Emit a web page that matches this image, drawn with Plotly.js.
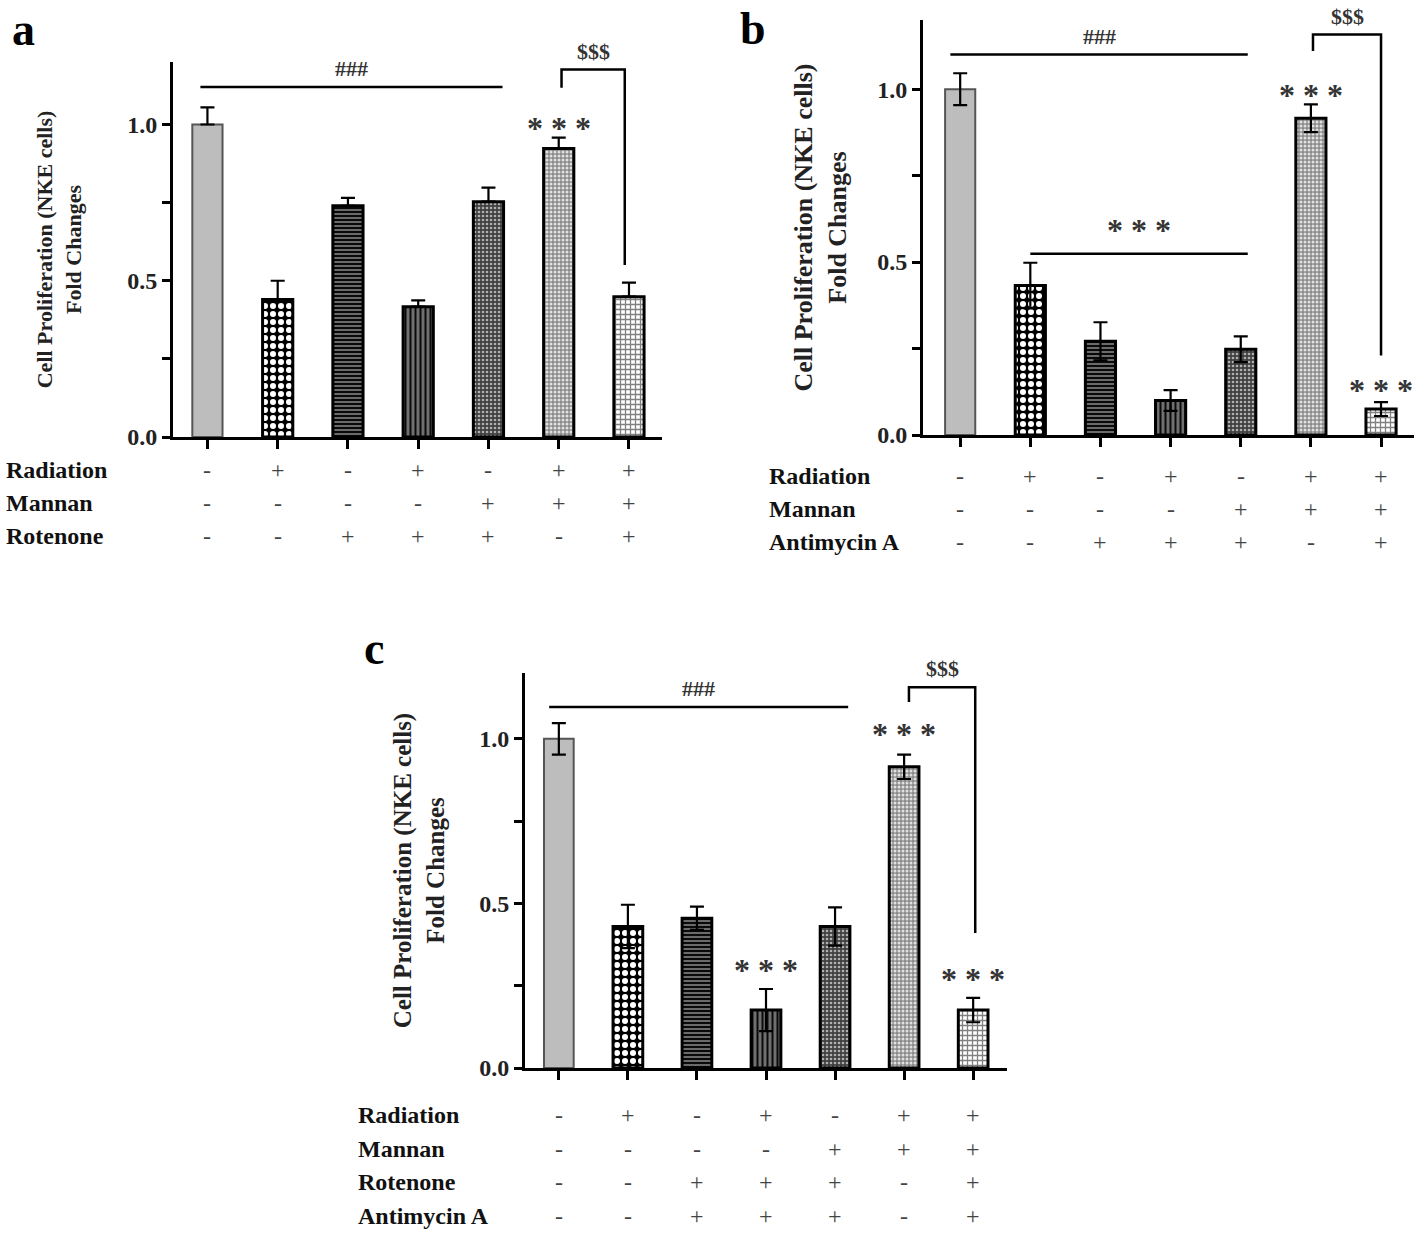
<!DOCTYPE html>
<html><head><meta charset="utf-8">
<script src="https://cdn.plot.ly/plotly-3.0.1.min.js"></script>
<style>html,body{margin:0;padding:0;background:#fff}</style>
</head><body><div id="chart" style="width:1418px;height:1233px"></div>
<script>
// ---------------- DATA ----------------
const groupsA = ['Control','Radiation','Rotenone','Radiation + Rotenone','Mannan + Rotenone','Radiation + Mannan','Radiation + Mannan + Rotenone'];
const valuesA = [1.00, 0.44, 0.74, 0.417, 0.753, 0.923, 0.449];
const errorsA = [0.055, 0.06, 0.025, 0.02, 0.045, 0.035, 0.045];

const groupsB = ['Control','Radiation','Antimycin A','Radiation + Antimycin A','Mannan + Antimycin A','Radiation + Mannan','Radiation + Mannan + Antimycin A'];
const valuesB = [1.00, 0.432, 0.271, 0.10, 0.248, 0.916, 0.075];
const errorsB = [0.046, 0.066, 0.055, 0.03, 0.037, 0.04, 0.02];

const groupsC = ['Control','Radiation','Rotenone + Antimycin A','Radiation + Rotenone + Antimycin A','Mannan + Rotenone + Antimycin A','Radiation + Mannan','Radiation + Mannan + Rotenone + Antimycin A'];
const valuesC = [1.00, 0.43, 0.455, 0.176, 0.43, 0.915, 0.176];
const errorsC = [0.048, 0.066, 0.035, 0.064, 0.058, 0.037, 0.037];

const yTickVals = [0, 0.25, 0.5, 0.75, 1.0];
const yTickText = ['0.0', '', '0.5', '', '1.0'];

// condition tables (+ / -)
const radiationA = ['-','+','-','+','-','+','+'];
const mannanA    = ['-','-','-','-','+','+','+'];
const rotenoneA  = ['-','-','+','+','+','-','+'];

const radiationB = ['-','+','-','+','-','+','+'];
const mannanB    = ['-','-','-','-','+','+','+'];
const antimycinB = ['-','-','+','+','+','-','+'];

const radiationC = ['-','+','-','+','-','+','+'];
const mannanC    = ['-','-','-','-','+','+','+'];
const rotenoneC  = ['-','-','+','+','+','-','+'];
const antimycinC = ['-','-','+','+','+','-','+'];

// significance marks: [bar index, level]
const starsA = [[5, 0.995]];
const starsB = [[5, 0.99], [6, 0.135]];
const starsC = [[5, 1.02], [3, 0.305], [6, 0.275]];
// long "###" line: [from, to, level]
const hashA = [-0.1, 4.2, 1.12];
const hashB = [-0.14, 4.1, 1.10];
const hashC = [-0.14, 4.19, 1.097];
const starLineB = [1.0, 4.1, 0.524];
// "$$$" bracket: [left, right, top, leftBottom, rightBottom]
const dollarA = [5.04, 5.94, 1.176, 1.118, 0.55];
const dollarB = [5.03, 6.0, 1.158, 1.11, 0.23];
const dollarC = [5.07, 6.03, 1.157, 1.112, 0.41];

// ---------------- STYLE ----------------
const W = 1418, H = 1233;
const serif = 'Liberation Serif, Times New Roman, serif';
const patShape = ['', '.', '-', '|', '.', '.', '+'];
const patBg = ['#bdbdbd', '#000000', '#6a6a6a', '#707070', '#404040', '#8a8a8a', '#ffffff'];
const patFg = ['#bdbdbd', '#ffffff', '#0a0a0a', '#0a0a0a', '#b0b0b0', '#e0e0e0', '#808080'];
const patSize = [8, 8, 4, 5, 4, 4, 5];
const patSol = [0.3, 0.45, 0.5, 0.4, 0.35, 0.45, 0.45];
const lineCol = ['#555555', '#000', '#000', '#000', '#000', '#000', '#000'];
const lineW = [2, 3, 3, 3, 3, 3, 3];

function px(x){ return x / W; }
function py(y){ return 1 - y / H; }

function barTrace(groups, vals, errs, xa, ya, upperOnly){
  return {
    type: 'bar', x: groups, y: vals, xaxis: xa, yaxis: ya, width: 0.43,
    marker: {
      color: '#bdbdbd',
      line: {color: lineCol, width: lineW},
      pattern: {shape: patShape, bgcolor: patBg, fgcolor: patFg, size: patSize, solidity: patSol, fillmode: 'replace'}
    },
    error_y: {type: 'data', array: errs, arrayminus: upperOnly ? errs.map(() => 0) : errs,
              symmetric: false, visible: true, color: '#000', thickness: 2.2, width: 7},
    hoverinfo: 'y', showlegend: false
  };
}

const data = [
  barTrace(groupsA, valuesA, errorsA, 'x', 'y', true),
  barTrace(groupsB, valuesB, errorsB, 'x2', 'y2', false),
  barTrace(groupsC, valuesC, errorsC, 'x3', 'y3', false)
];

function xAx(domain, range){
  return {domain: domain, range: range, type: 'category', showline: true, linewidth: 3, linecolor: '#000',
          ticks: 'outside', ticklen: 9, tickwidth: 3, tickcolor: '#000', showticklabels: false,
          showgrid: false, zeroline: false, fixedrange: true};
}
function yAx(domain, anchor, titleSize, standoff){
  return {domain: domain, anchor: anchor, range: [0, 1.2], showline: true, linewidth: 3, linecolor: '#000',
          ticks: 'outside', ticklen: 8, tickwidth: 3, tickcolor: '#000',
          tickvals: yTickVals, ticktext: yTickText,
          tickfont: {family: serif, size: 24, color: '#222', weight: 'bold'},
          showgrid: false, zeroline: false, fixedrange: true,
          title: {text: 'Cell Proliferation (NKE cells)<br>Fold Changes', standoff: standoff,
                  font: {family: serif, size: titleSize, color: '#222', weight: 'bold'}}};
}

const layout = {
  width: W, height: H, margin: {l: 0, r: 0, t: 0, b: 0},
  paper_bgcolor: '#fff', plot_bgcolor: 'rgba(0,0,0,0)', showlegend: false, bargap: 0.5,
  xaxis:  Object.assign(xAx([px(173), px(662)], [-0.49, 6.47]), {anchor: 'y'}),
  yaxis:  yAx([py(437), py(62)], 'x', 22, 40),
  xaxis2: Object.assign(xAx([px(923), px(1414)], [-0.53, 6.47]), {anchor: 'y2'}),
  yaxis2: yAx([py(435), py(20)], 'x2', 26, 24),
  xaxis3: Object.assign(xAx([px(525), px(1007)], [-0.49, 6.49]), {anchor: 'y3'}),
  yaxis3: yAx([py(1068), py(673)], 'x3', 25, 28),
  shapes: [], annotations: []
};

const lineStyle = {color: '#000', width: 2.5};
function addHash(h, xr, yr, label, size){
  layout.shapes.push({type: 'line', xref: xr, yref: yr, x0: h[0], x1: h[1], y0: h[2], y1: h[2], line: lineStyle});
  layout.annotations.push({xref: xr, yref: yr, x: (h[0] + h[1]) / 2, y: h[2], yanchor: 'bottom', yshift: 4,
    text: label, showarrow: false, font: {family: serif, size: size || 22, color: '#333', weight: 'bold'}});
}
function addDollar(d, xr, yr){
  layout.shapes.push({type: 'path', xref: xr, yref: yr,
    path: `M ${d[0]},${d[3]} L ${d[0]},${d[2]} L ${d[1]},${d[2]} L ${d[1]},${d[4]}`, line: lineStyle});
  layout.annotations.push({xref: xr, yref: yr, x: (d[0] + d[1]) / 2, y: d[2], yanchor: 'bottom', yshift: 4,
    text: '$$$', showarrow: false, font: {family: serif, size: 22, color: '#333', weight: 'bold'}});
}
function addStars(list, groups, xr, yr){
  list.forEach(s => layout.annotations.push({xref: xr, yref: yr, x: groups[s[0]], y: s[1], yanchor: 'middle', yshift: -2,
    text: '* * *', showarrow: false, font: {family: serif, size: 32, color: '#333', weight: 'bold'}}));
}
function addRows(rows, groups, xr, labelX, yStart, dy){
  rows.forEach((r, k) => {
    const yy = py(yStart + k * dy);
    layout.annotations.push({xref: 'paper', yref: 'paper', x: px(labelX), y: yy, xanchor: 'left', yanchor: 'middle',
      text: r[0], showarrow: false, font: {family: serif, size: 24, color: '#111', weight: 'bold'}});
    r[1].forEach((s, i) => layout.annotations.push({xref: xr, yref: 'paper', x: groups[i], y: yy, yanchor: 'middle',
      text: s, showarrow: false, font: {family: serif, size: 24, color: '#444'}}));
  });
}
function addPanel(letter, x, y){
  layout.annotations.push({xref: 'paper', yref: 'paper', x: px(x), y: py(y), xanchor: 'left', yanchor: 'middle',
    text: letter, showarrow: false, font: {family: serif, size: 46, color: '#000', weight: 'bold'}});
}

addHash(hashA, 'x', 'y', '###');
addDollar(dollarA, 'x', 'y');
addStars(starsA, groupsA, 'x', 'y');
addRows([['Radiation', radiationA], ['Mannan', mannanA], ['Rotenone', rotenoneA]], groupsA, 'x', 4, 470, 33);
addPanel('a', 10, 30);

addHash(hashB, 'x2', 'y2', '###');
addHash(starLineB, 'x2', 'y2', '* * *', 32);
addDollar(dollarB, 'x2', 'y2');
addStars(starsB, groupsB, 'x2', 'y2');
addRows([['Radiation', radiationB], ['Mannan', mannanB], ['Antimycin A', antimycinB]], groupsB, 'x2', 767, 476, 33);
addPanel('b', 738, 28);

addHash(hashC, 'x3', 'y3', '###');
addDollar(dollarC, 'x3', 'y3');
addStars(starsC, groupsC, 'x3', 'y3');
addRows([['Radiation', radiationC], ['Mannan', mannanC], ['Rotenone', rotenoneC], ['Antimycin A', antimycinC]], groupsC, 'x3', 356, 1115, 33.5);
addPanel('c', 362, 648);

Plotly.newPlot('chart', data, layout, {staticPlot: true, displayModeBar: false});
</script></body></html>
